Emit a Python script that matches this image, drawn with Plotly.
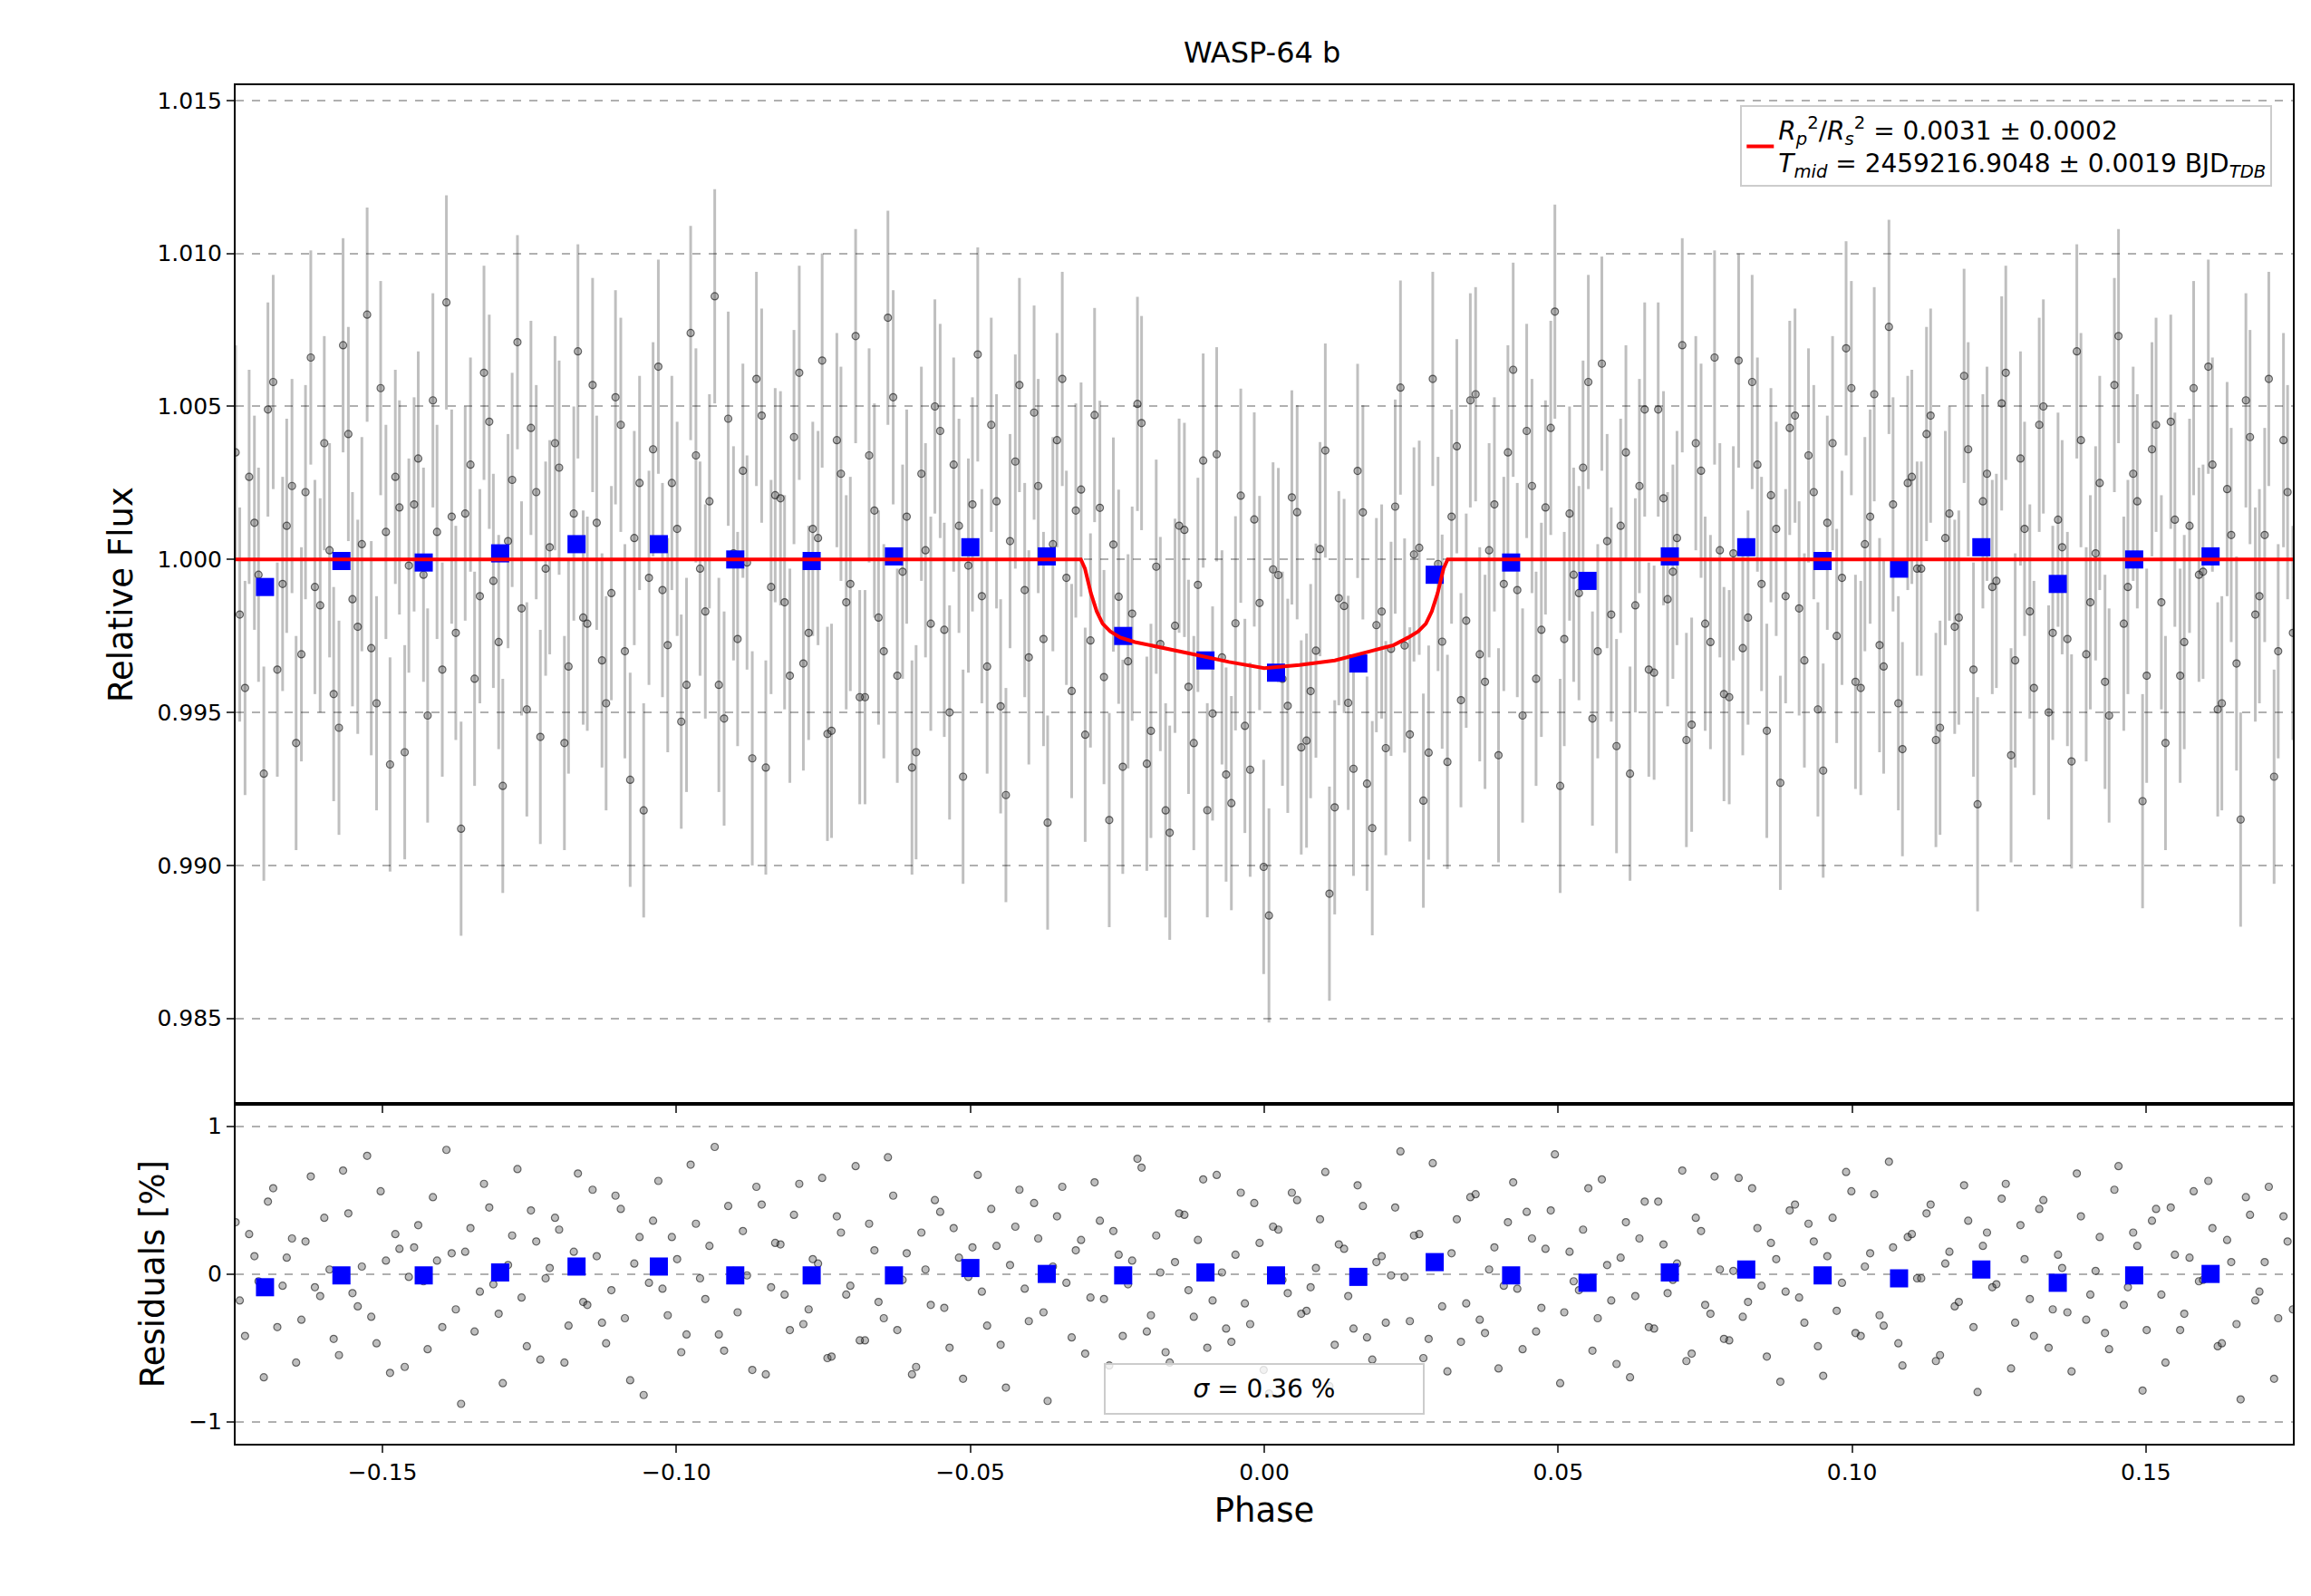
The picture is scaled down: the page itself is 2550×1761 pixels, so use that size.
import numpy as np
import plotly.graph_objects as go
from plotly.subplots import make_subplots

bin_phase = [-0.170,-0.157,-0.143,-0.130,-0.117,-0.103,-0.090,-0.077,-0.063,-0.050,-0.037,-0.024,-0.010,0.002,0.016,0.029,0.042,0.055,0.069,0.082,0.095,0.108,0.122,0.135,0.148,0.161]
bin_flux = [0.9991,0.99995,0.9999,1.0002,1.0005,1.0005,1.0000,0.99995,1.0001,1.0004,1.0001,0.9975,0.9967,0.9963,0.9966,0.9995,0.9999,0.9993,1.0001,1.0004,0.99995,0.9997,1.0004,0.9992,1.0000,1.0001]
bin_resid = [-0.09,-0.01,-0.01,0.01,0.05,0.05,-0.01,-0.01,-0.01,0.04,0.00,-0.01,0.01,-0.01,-0.02,0.08,-0.01,-0.06,0.01,0.03,-0.01,-0.03,0.03,-0.06,-0.01,0.00]

model_phase = [-0.175,-0.0312,-0.0305,-0.0295,-0.0285,-0.0275,-0.0262,-0.0245,-0.022,-0.018,-0.012,-0.006,0.000,0.006,0.012,0.018,0.022,0.0245,0.0262,0.0275,0.0285,0.0295,0.0305,0.0312,0.175]
model_flux = [1.0,1.0,0.9997,0.9989,0.9983,0.9979,0.99765,0.99745,0.9973,0.99715,0.9969,0.99665,0.99645,0.99655,0.9967,0.9970,0.9972,0.99745,0.99765,0.9979,0.9983,0.9989,0.9997,1.0,1.0]

# residuals in units of 0.01 %
resid_a = [35,-42,12,-70,58,-8,24,-31,66,-15,3,-55,41,-22,80,-47,9,27,-63,18,-5,52,-36,14,-88,31,-12,45,-27,6,71,-49,22,-3,38,-60,15,-19,57,-33,
-11,44,-72,25,-6,63,-28,10,-41,34,-17,86,-52,2,29,-65,47,-9,20,-38,61,-24,7,-57,39,-14,73,-45,16,-30,
53,-4,-68,28,-21,42,-50,11,-2,67,-35,19,-77,32,-10,48,-26,5,59,-43,23,-16,36,-62,13,-7,78,-39,26,-53,
8,40,-29,64,-18,1,-46,55,-34,21,-81,30,-13,50,-25,4,69,-48,17,-37,46,-58,12,-1,83,-32,27,-44,9,-66,
37,-20,54,-40,18,-8,62,-51,24,-23,43,-74,15,-11,58,-30,6,-61,35,-15,49,-37,20,-4,70,-54,29,-27,3,-45,
65,-19,31,-56,10,-12,47,-33,22,-69,38,-6,56,-42,14,-28,76,-47,25,-3,41,-59,7,-22,60,-36,19,-9,51,-64,
33,-17,44,-50,13,-26,68,-31,2,-40,57,-21,28,-79,36,-14,45,-38,11,-5,63,-49,23,-34,52,-18,8,-71,39,-24]
resid_b = [-18,27,-5,49,-36,11,-60,22,-9,38,-44,70,-13,5,-29,56,-67,17,-2,33,-51,9,84,-24,15,-39,61,-7,-74,26,-16,43,-58,4,30,-35,68,-21,12,-47,
53,-30,7,-82,36,-10,25,-53,74,-3,19,-41,46,-26,-1,59,-68,21,-14,40,-34,10,65,-56,28,-8,-45,34,-19,79,
-38,14,-63,3,50,-23,31,-71,18,-12,44,-48,6,57,-32,24,-86,39,-6,16,-54,62,-17,29,-42,9,72,-28,1,-60,
41,-11,23,-50,67,-37,13,-20,48,-65,32,-4,55,-27,-9,37,-76,20,-15,60,-43,8,-33,45,-2,26,-57,75,-22,14,
-46,52,-31,3,-64,35,-10,42,-39,17,81,-26,-5,30,-52,64,-18,11,-70,24,-36,49,-13,7,-59,38,-21,66,-44,2,
-29,58,-8,21,-73,43,-16,34,-49,12,-25,69,-40,5,54,-35,18,-62,27,-3,47,-55,15,-19,36,-80,28,-7,61,-33,
10,-42,50,-24,4,-66,39,-14,25,-51,73,-9,19,-38,44,-60,13,-27,56,-4,31,-47,8,-85,40,-12,59,-30,22,-6]
raw_err = 0.0035

resid_all = np.array(resid_a + resid_b) / 100.0
raw_phase = np.concatenate([np.linspace(-0.175, 0.175, len(resid_a)),
                            np.linspace(-0.1743, 0.1757, len(resid_b))])
raw_flux = np.interp(raw_phase, model_phase, model_flux) + resid_all / 100.0

fig = make_subplots(rows=2, cols=1, shared_xaxes=True, row_heights=[0.75, 0.25], vertical_spacing=0)

mk = dict(size=8, color="rgba(70,70,70,0.35)", line=dict(color="rgba(0,0,0,0.55)", width=1.2))
fig.add_trace(go.Scatter(x=raw_phase, y=raw_flux, mode="markers", marker=mk,
    error_y=dict(type="constant", value=raw_err, color="rgba(0,0,0,0.25)", thickness=3, width=0),
    showlegend=False), row=1, col=1)
fig.add_trace(go.Scatter(x=bin_phase, y=bin_flux, mode="markers",
    marker=dict(symbol="square", size=20, color="blue"), showlegend=False), row=1, col=1)
fig.add_trace(go.Scatter(x=model_phase, y=model_flux, mode="lines", line=dict(color="red", width=4),
    name="<i>R</i><sub><i>p</i></sub><sup>2</sup>/<i>R</i><sub><i>s</i></sub><sup>2</sup> = 0.0031 ± 0.0002<br><i>T</i><sub><i>mid</i></sub> = 2459216.9048 ± 0.0019 BJD<sub><i>TDB</i></sub>"),
    row=1, col=1)
fig.add_trace(go.Scatter(x=raw_phase, y=resid_all, mode="markers", marker=mk,
    showlegend=False), row=2, col=1)
fig.add_trace(go.Scatter(x=bin_phase, y=bin_resid, mode="markers",
    marker=dict(symbol="square", size=20, color="blue"), showlegend=False), row=2, col=1)

ax = dict(showline=True, linecolor="black", linewidth=2, mirror=True, ticks="outside",
          ticklen=8, tickwidth=2, tickfont=dict(size=25, color="black"), zeroline=False)
fig.update_xaxes(**ax, range=[-0.175, 0.175], showgrid=False, dtick=0.05, tickformat=".2f")
fig.update_xaxes(title=dict(text="Phase", font=dict(size=37)), row=2, col=1)
fig.update_yaxes(**ax, showgrid=True, gridcolor="#b0b0b0", griddash="dash", gridwidth=2)
fig.update_yaxes(range=[0.9822, 1.0155], dtick=0.005, tickformat=".3f",
                 title=dict(text="Relative Flux", font=dict(size=37)), row=1, col=1)
fig.update_yaxes(range=[-1.15, 1.15], tickvals=[-1, 0, 1], ticktext=["−1", "0", "1"],
                 title=dict(text="Residuals [%]", font=dict(size=37)), row=2, col=1)
fig.update_layout(
    width=2550, height=1761, plot_bgcolor="white", paper_bgcolor="white",
    font=dict(family="DejaVu Sans", color="black"),
    title=dict(text="WASP-64 b", x=0.543, y=0.978, xanchor="center", font=dict(size=32)),
    margin=dict(l=252, r=28, t=86, b=176),
    legend=dict(x=0.99, y=0.985, xanchor="right", yanchor="top", bgcolor="rgba(255,255,255,0.8)",
                bordercolor="#cccccc", borderwidth=2, font=dict(size=28)),
    annotations=[dict(text="<i>σ</i> = 0.36 %", xref="x2", yref="y2", x=0, y=-0.78,
                      showarrow=False, font=dict(size=28), bgcolor="rgba(255,255,255,0.8)",
                      bordercolor="#cccccc", borderwidth=2, borderpad=10, width=330)])
fig.write_html("out.html")
